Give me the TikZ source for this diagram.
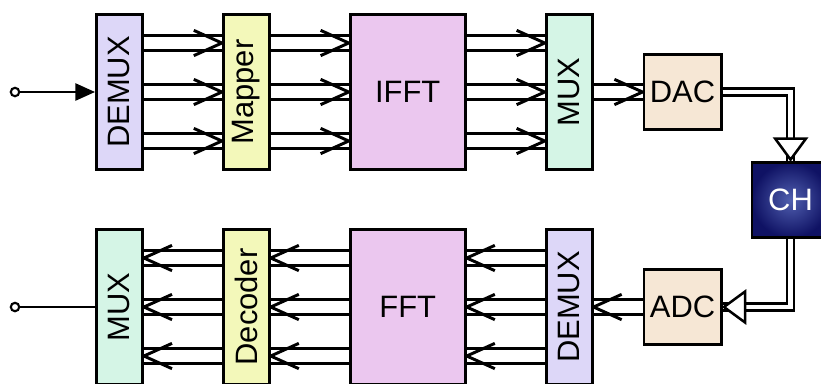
\documentclass[tikz,border=0pt]{standalone}
\usepackage{fontspec}
\setmainfont{Liberation Sans}
\usepackage{graphicx}
\usetikzlibrary{positioning, arrows.meta, decorations.markings}
\definecolor{clav}{RGB}{221,215,248}
\definecolor{cyel}{RGB}{243,248,186}
\definecolor{cpink}{RGB}{235,199,239}
\definecolor{cmint}{RGB}{213,245,230}
\definecolor{cbeige}{RGB}{246,231,213}
\definecolor{cnavy}{RGB}{15,18,100}
\definecolor{cnavyl}{RGB}{80,95,175}
% single-line heads drawn at the end of a double line
\newcommand{\vhead}{\pgfsetinnerlinewidth{0pt}\pgfsetlinewidth{2.1pt}\pgfsetroundjoin
  \pgfpathmoveto{\pgfpoint{-20pt}{9pt}}\pgfpathlineto{\pgfpoint{0pt}{0pt}}\pgfpathlineto{\pgfpoint{-20pt}{-9pt}}\pgfusepath{stroke}}
\newcommand{\thead}{\pgfsetinnerlinewidth{0pt}\pgfsetlinewidth{1.8pt}\pgfsetfillcolor{white}
  \pgfpathmoveto{\pgfpoint{-1pt}{0pt}}\pgfpathlineto{\pgfpoint{-16pt}{11pt}}\pgfpathlineto{\pgfpoint{-16pt}{-11pt}}\pgfpathclose\pgfusepath{fill,stroke}}

\begin{document}
\begin{tikzpicture}[font=\fontsize{22}{26}\selectfont,node distance=1.95cm,
  blk/.style={draw,line width=2pt,minimum width=1.15cm,minimum height=3.88cm,inner sep=0pt},
  wide/.style={blk,minimum width=2.88cm},
  sq/.style={draw,line width=2pt,minimum width=1.93cm,minimum height=1.88cm,inner sep=0pt},
  port/.style={circle,draw,fill=white,line width=1.5pt,minimum size=6pt,inner sep=0pt},
  link/.style={double,line width=2.1pt,double distance=8pt,postaction={decorate,decoration={markings,mark=at position 1 with {\vhead}}}},
  pipe/.style={double,line width=1.8pt,double distance=3pt,postaction={decorate,decoration={markings,mark=at position 1 with {\thead}}}}]
  \useasboundingbox (0,0) rectangle (20.525,-9.575);
  % transmitter
  \node[blk,fill=clav](dmA) at (2.9875,-2.3){\rotatebox{90}{DEMUX}};
  \node[blk,fill=cyel,right=of dmA](map){\rotatebox{90}{Mapper}};
  \node[wide,fill=cpink,right=of map](ifft){IFFT};
  \node[blk,fill=cmint,right=of ifft](muxA){\rotatebox{90}{MUX}};
  \node[sq,fill=cbeige,right=1.225cm of muxA](dac){DAC};
  \node[sq,text=white,inner color=cnavyl,outer color=cnavy,below right=0.75cm and 0.7cm of dac](ch){CH};
  % receiver
  \node[blk,fill=cmint,below=1.425cm of dmA](muxB){\rotatebox{90}{MUX}};
  \node[blk,fill=cyel,right=of muxB](dec){\rotatebox{90}{Decoder}};
  \node[wide,fill=cpink,right=of dec](fft){FFT};
  \node[blk,fill=clav,right=of fft](dmB){\rotatebox{90}{DEMUX}};
  \node[sq,fill=cbeige,right=1.225cm of dmB](adc){ADC};
  \node[port](in) at (0.375,-2.3){};\node[port](out) at (in |- muxB){};
  \draw[line width=2pt,-{Triangle[length=14pt,width=12pt]}](in)--(dmA);\draw[line width=2pt](out)--(muxB);
  \draw[link]([yshift=1.225cm]dmA.east)--([yshift=1.225cm]map.west);\draw[link](dmA)--(map);\draw[link]([yshift=-1.225cm]dmA.east)--([yshift=-1.225cm]map.west);
  \draw[link]([yshift=1.225cm]map.east)--([yshift=1.225cm]ifft.west);\draw[link](map)--(ifft);\draw[link]([yshift=-1.225cm]map.east)--([yshift=-1.225cm]ifft.west);
  \draw[link]([yshift=1.225cm]ifft.east)--([yshift=1.225cm]muxA.west);\draw[link](ifft)--(muxA);\draw[link]([yshift=-1.225cm]ifft.east)--([yshift=-1.225cm]muxA.west);
  \draw[link](muxA)--(dac);\draw[pipe](dac.east)-|(ch.north);\draw[pipe](ch.south)|-(adc.east);\draw[link](adc)--(dmB);
  \draw[link]([yshift=1.225cm]dmB.west)--([yshift=1.225cm]fft.east);\draw[link](dmB)--(fft);\draw[link]([yshift=-1.225cm]dmB.west)--([yshift=-1.225cm]fft.east);
  \draw[link]([yshift=1.225cm]fft.west)--([yshift=1.225cm]dec.east);\draw[link](fft)--(dec);\draw[link]([yshift=-1.225cm]fft.west)--([yshift=-1.225cm]dec.east);
  \draw[link]([yshift=1.225cm]dec.west)--([yshift=1.225cm]muxB.east);\draw[link](dec)--(muxB);\draw[link]([yshift=-1.225cm]dec.west)--([yshift=-1.225cm]muxB.east);
\end{tikzpicture}
\end{document}
